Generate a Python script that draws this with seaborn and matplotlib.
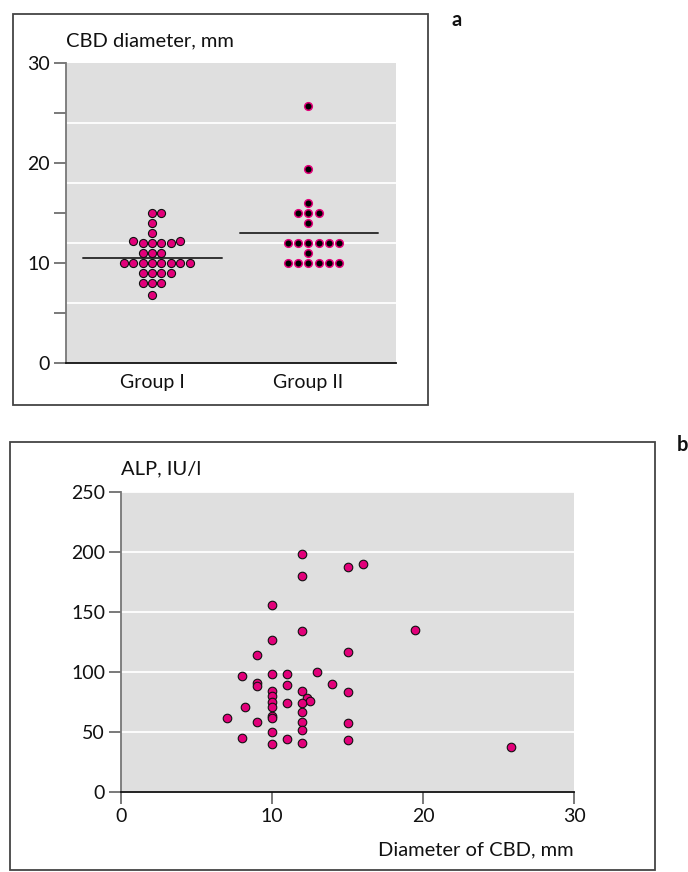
import numpy as np
import pandas as pd
import matplotlib
matplotlib.use('Agg')
import matplotlib.pyplot as plt
from matplotlib.patches import Rectangle
import seaborn as sns

# panel a: CBD diameter per group (mm)
groups = ['Group I', 'Group II']
group1_values = [15, 15, 14, 13, 12.2, 12, 12, 12, 12, 12.2, 11, 11, 11,
                 10, 10, 10, 10, 10, 10, 10, 10, 9, 9, 9, 9, 8, 8, 8, 6.8]
group2_values = [25.7, 19.4, 16, 15, 15, 15, 14, 12, 12, 12, 12, 12, 12,
                 11, 10, 10, 10, 10, 10, 10]
group_means = [10.5, 13.0]

# panel b: ALP vs CBD diameter
cbd_diameter = [7, 8, 8, 8.2, 9, 9, 9, 9, 10, 10, 10, 10, 10, 10, 10, 10, 10,
                10, 10, 11, 11, 11, 11, 12, 12, 12, 12, 12.3, 12.5, 12, 12, 12,
                12, 12, 13, 14, 15, 15, 15, 15, 15, 16, 19.5, 25.8]
alp = [62, 97, 45, 71, 114, 91, 88, 58, 155.5, 126.7, 98, 84.5, 79.7, 75.3,
       70.8, 63.6, 62, 50, 40, 98, 89, 74, 44, 198, 180, 134, 84, 78.6, 76,
       73.9, 67, 58.3, 52, 40.6, 100, 90, 187.5, 117, 83, 57.5, 43, 190, 135,
       37.5]

MAGENTA = '#e2007a'
GREY_BG = '#dfdfdf'


def dot_offsets(values, step):
    # stack equal (rounded) values side by side, like a dot plot
    values = np.asarray(values, dtype=float)
    rows = np.round(values)
    offsets = np.zeros(len(values))
    for r in np.unique(rows):
        idx = np.where(rows == r)[0]
        n = len(idx)
        start = -((n - 1) // 2)
        offsets[idx] = (start + np.arange(n)) * step
    return offsets


def style_axes(ax):
    ax.set_facecolor(GREY_BG)
    for side in ['top', 'right']:
        ax.spines[side].set_visible(False)
    ax.spines['left'].set_color('#777777')
    ax.spines['left'].set_linewidth(1.3)
    ax.spines['bottom'].set_color('#111111')
    ax.spines['bottom'].set_linewidth(1.3)
    ax.tick_params(axis='both', which='major', color='#555555', width=1.1,
                   length=8.5, direction='out', labelsize=14, pad=3,
                   labelcolor='#111111', left=True, bottom=True)
    ax.set_xlabel('')
    ax.set_ylabel('')


sns.set_style('white')
plt.rcParams['font.family'] = ['Lato', 'DejaVu Sans']

fig = plt.figure(figsize=(6.88, 8.72), dpi=100)
W, H = 688, 872


def px_axes(left, top, right, bottom):
    return fig.add_axes([left / W, 1 - bottom / H, (right - left) / W, (bottom - top) / H])


# frames around the panels
fig.patches.append(Rectangle((13 / W, 1 - 405 / H), 415 / W, 391 / H, transform=fig.transFigure,
                             fill=False, edgecolor='#444444', linewidth=1.3))
fig.patches.append(Rectangle((10 / W, 1 - 870 / H), 645 / W, 428 / H, transform=fig.transFigure,
                             fill=False, edgecolor='#444444', linewidth=1.3))

# ---- panel a ----
ax1 = px_axes(66, 63, 396, 363)
df1 = pd.DataFrame({'x': 0 + dot_offsets(group1_values, 0.060), 'value': group1_values})
df2 = pd.DataFrame({'x': 1 + dot_offsets(group2_values, 0.066), 'value': group2_values})
sns.scatterplot(data=df1, x='x', y='value', ax=ax1, color=MAGENTA, edgecolor='#111111',
                linewidth=0.8, s=34, zorder=3)
sns.scatterplot(data=df2, x='x', y='value', ax=ax1, color='#000000', edgecolor=MAGENTA,
                linewidth=1.1, s=30, zorder=3)
for i, m in enumerate(group_means):
    ax1.plot([i - 0.44, i + 0.445], [m, m], color='#333333', lw=1.4, zorder=2)

ax1.set_xlim(-0.55, 1.56)
ax1.set_ylim(0, 30)
ax1.set_xticks([0, 1])
ax1.set_xticklabels(groups)
ax1.set_yticks(range(0, 31, 5))
ax1.set_yticklabels(['0', '', '10', '', '20', '', '30'])
ax1.set_yticks([6, 12, 18, 24], minor=True)
style_axes(ax1)
ax1.tick_params(axis='x', length=0, pad=8)
ax1.tick_params(axis='y', which='minor', length=0)
ax1.grid(False)
ax1.grid(which='minor', axis='y', color='white', linewidth=1.3)
ax1.set_axisbelow(True)

fig.text(66 / W, 1 - 41 / H, 'CBD diameter, mm', ha='left', va='center', fontsize=14.5, color='#111111')
fig.text(452 / W, 1 - 20 / H, 'a', ha='left', va='center', fontsize=14.5, fontweight='bold', color='#111111')

# ---- panel b ----
ax2 = px_axes(121, 492, 574, 792)
sns.scatterplot(x=cbd_diameter, y=alp, ax=ax2, color=MAGENTA, edgecolor='#111111',
                linewidth=0.8, s=38, zorder=3)
ax2.set_xlim(0, 30)
ax2.set_ylim(0, 250)
ax2.set_xticks([0, 10, 20, 30])
ax2.set_yticks(range(0, 251, 50))
style_axes(ax2)
ax2.grid(False)
ax2.grid(axis='y', color='white', linewidth=1.3)
ax2.set_axisbelow(True)

fig.text(121 / W, 1 - 469 / H, 'ALP, IU/l', ha='left', va='center', fontsize=14.5, color='#111111')
fig.text(574 / W, 1 - 850 / H, 'Diameter of CBD, mm', ha='right', va='center', fontsize=14.5, color='#111111')
fig.text(677 / W, 1 - 445 / H, 'b', ha='left', va='center', fontsize=14.5, fontweight='bold', color='#111111')

fig.savefig('out.png', dpi=100)
